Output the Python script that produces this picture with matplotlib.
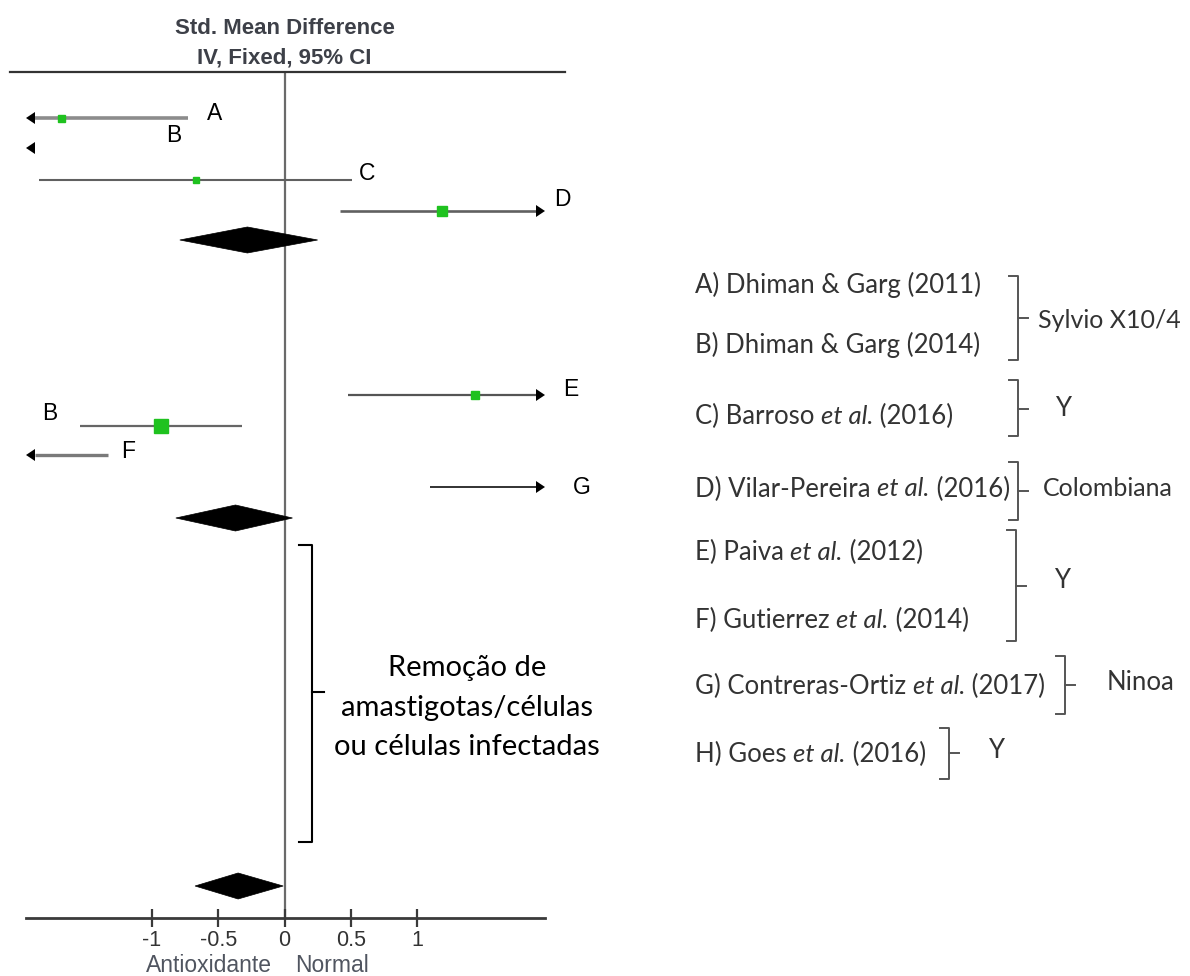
import numpy as np
import matplotlib
matplotlib.use("Agg")
import matplotlib.pyplot as plt
from matplotlib.patches import Polygon

# ---------------- data ----------------
study_labels = ["A", "B", "C", "D", "E", "B", "F", "G"]
point_est = [-1.69, np.nan, -0.67, 1.19, 1.44, -0.93, np.nan, np.nan]
ci_low = [-np.inf, -np.inf, -1.85, 0.42, 0.48, -1.54, -np.inf, 1.10]
ci_high = [-0.73, -np.inf, 0.51, np.inf, np.inf, -0.32, -1.33, np.inf]

pooled_est = [-0.28, -0.37, -0.35]
pooled_low = [-0.79, -0.82, -0.675]
pooled_high = [0.25, 0.06, -0.01]

xticks = [-1, -0.5, 0, 0.5, 1]
xticklabels = ["-1", "-0.5", "0", "0.5", "1"]

legend_refs = [
    ("A) Dhiman & Garg (2011)", None),
    ("B) Dhiman & Garg (2014)", None),
    ("C) Barroso ", "(2016)"),
    ("D) Vilar-Pereira ", "(2016)"),
    ("E) Paiva ", "(2012)"),
    ("F) Gutierrez ", "(2014)"),
    ("G) Contreras-Ortiz ", "(2017)"),
    ("H) Goes ", "(2016)"),
]
strain_groups = ["Sylvio X10/4", "Y", "Colombiana", "Y", "Ninoa", "Y"]

# ---------------- layout / style ----------------
W, H = 1190, 976
X0_PX, PX_PER_UNIT = 284.5, 132.5
AX_L, AX_R, AX_T, AX_B = 26, 545, 72, 918
row_y = [118, 148, 180, 211, 395, 426, 455, 487]
pooled_y = [240, 518, 886]
label_xy = [(215, 113), (174, 136), (367, 173), (562, 200),
            (571, 390), (50, 413), (128, 452), (582, 487)]
line_colors = ["#8c8c8c", "#555555", "#606060", "#606060",
               "#555555", "#666666", "#7a7a7a", "#222222"]
line_widths = [2.6, 1.5, 1.5, 1.9, 1.6, 1.6, 2.4, 1.3]
marker_px = [7, 0, 6, 10, 8, 14, 0, 0]
GREEN = "#1fc21f"
ARIAL = "Liberation Sans"
CALIBRI = "Lato"

fig = plt.figure(figsize=(W / 100, H / 100), dpi=100)

xmin = (AX_L - X0_PX) / PX_PER_UNIT
xmax = (AX_R - X0_PX) / PX_PER_UNIT
ax = fig.add_axes([AX_L / W, 1 - AX_B / H, (AX_R - AX_L) / W, (AX_B - AX_T) / H])
ax.set_xlim(xmin, xmax)
ax.set_ylim(AX_B, AX_T)
ax.patch.set_alpha(0)
for s in ["top", "left", "right"]:
    ax.spines[s].set_visible(False)
ax.spines["bottom"].set_linewidth(2.0)
ax.spines["bottom"].set_color("#3a3a3a")
ax.set_yticks([])
ax.set_xticks(xticks)
ax.set_xticklabels(xticklabels, fontfamily=ARIAL, fontsize=15.5, color="#333333")
ax.tick_params(axis="x", direction="inout", length=13, width=1.6, color="#3a3a3a", pad=2)

# zero line
ax.plot([0, 0], [AX_T, AX_B], color="#6a6a6a", lw=1.6, zorder=1, solid_capstyle="butt")

unit = PX_PER_UNIT  # px per data unit
HEAD_PX = 9


def head(x_tip, y, direction):
    # arrowhead triangle, tip at x_tip
    dx = HEAD_PX / unit
    hy = 6
    if direction < 0:
        pts = [(x_tip, y), (x_tip + dx, y - hy), (x_tip + dx, y + hy)]
    else:
        pts = [(x_tip, y), (x_tip - dx, y - hy), (x_tip - dx, y + hy)]
    ax.add_patch(Polygon(pts, closed=True, color="black", zorder=4, lw=0))


for i, lab in enumerate(study_labels):
    y = row_y[i]
    lo, hi, pt = ci_low[i], ci_high[i], point_est[i]
    lo_c = max(lo, xmin)
    hi_c = min(hi, xmax)
    if hi_c > lo_c:
        x_start = lo_c + (HEAD_PX / unit if lo < xmin else 0)
        x_end = hi_c - (HEAD_PX / unit if hi > xmax else 0)
        ax.plot([x_start, x_end], [y, y], color=line_colors[i], lw=line_widths[i],
                solid_capstyle="butt", zorder=2)
    if lo < xmin:
        head(xmin, y, -1)
    if hi > xmax:
        head(xmax, y, 1)
    if np.isfinite(pt) and marker_px[i] > 0:
        ax.plot([pt], [y], marker="s", ms=marker_px[i] * 0.72, color=GREEN,
                mec=GREEN, zorder=3, ls="none")

for c, lo, hi, y in zip(pooled_est, pooled_low, pooled_high, pooled_y):
    hh = 13
    ax.add_patch(Polygon([(lo, y), (c, y - hh), (hi, y), (c, y + hh)], closed=True,
                         facecolor="black", edgecolor="black", lw=0.5, zorder=4))

# ---------------- overlay (annotations in pixel coords) ----------------
ov = fig.add_axes([0, 0, 1, 1])
ov.set_xlim(0, W)
ov.set_ylim(H, 0)
ov.axis("off")
ov.patch.set_alpha(0)

ov.plot([10, 565], [72, 72], color="#333333", lw=1.6)
ov.text(285, 28, "Std. Mean Difference", ha="center", va="center", fontsize=16,
        fontweight="bold", family=ARIAL, color="#3d4048")
ov.text(284, 58, "IV, Fixed, 95% CI", ha="center", va="center", fontsize=16,
        fontweight="bold", family=ARIAL, color="#3d4048")

for lab, (lx, ly) in zip(study_labels, label_xy):
    ov.text(lx, ly, lab, ha="center", va="center", fontsize=16.5, family=ARIAL, color="black")

ov.text(209, 965, "Antioxidante", ha="center", va="center", fontsize=16.5,
        family=ARIAL, color="#505560")
ov.text(332, 965, "Normal", ha="center", va="center", fontsize=16.5,
        family=ARIAL, color="#505560")


def bracket(x, y0, y1, color="#555555", hook=9, tick=10, lw=1.4, ymid=None):
    if ymid is None:
        ymid = (y0 + y1) / 2
    ov.plot([x - hook, x, x, x - hook], [y0, y0, y1, y1], color=color, lw=lw,
            solid_joinstyle="round")
    ov.plot([x, x + tick], [ymid, ymid], color=color, lw=lw)


# big bracket in forest area
bracket(312, 545, 842, color="black", hook=13, tick=12, lw=1.5, ymid=692)
for txt, yy in zip(["Remoção de", "amastigotas/células", "ou células infectadas"],
                   [668, 708, 747]):
    ov.text(467, yy, txt, ha="center", va="center", fontsize=21, family=CALIBRI,
            color="black")

# legend texts
legend_y = [285, 345, 416, 489, 552, 620, 686, 754]
LCOL = "#333333"
for (main, year), yy in zip(legend_refs, legend_y):
    if year is None:
        ov.text(695, yy, main, ha="left", va="center", fontsize=18.5, family=CALIBRI,
                color=LCOL)
    else:
        t = ov.text(695, yy, main, ha="left", va="center", fontsize=18.5,
                    family=CALIBRI, color=LCOL)
        t2 = ov.annotate("et al.", xycoords=t, xy=(1, 0.5), va="center", ha="left",
                         fontsize=18.5, family=CALIBRI, fontstyle="italic", color=LCOL)
        ov.annotate(" " + year, xycoords=t2, xy=(1, 0.5), va="center", ha="left",
                    fontsize=18.5, family=CALIBRI, color=LCOL)

# legend brackets: (x, top, bottom, tick y)
lb = [(1018, 276, 360, 318), (1018, 380, 436, 409), (1018, 462, 520, 491),
      (1016, 530, 641, 586), (1065, 656, 714, 685), (949, 728, 779, 753)]
grp_xy = [(1038, 320), (1055, 408), (1043, 489), (1054, 580), (1107, 683), (988, 751)]
grp_fs = [18, 18.5, 18, 18.5, 18.5, 18.5]
for (bx, t0, t1, tm), g, (gx, gy), fs in zip(lb, strain_groups, grp_xy, grp_fs):
    bracket(bx, t0, t1, color="#555555", hook=9, tick=10, lw=1.4, ymid=tm)
    ov.text(gx, gy, g, ha="left", va="center", fontsize=fs, family=CALIBRI, color=LCOL)

fig.savefig("out.png", dpi=100, facecolor="white")
